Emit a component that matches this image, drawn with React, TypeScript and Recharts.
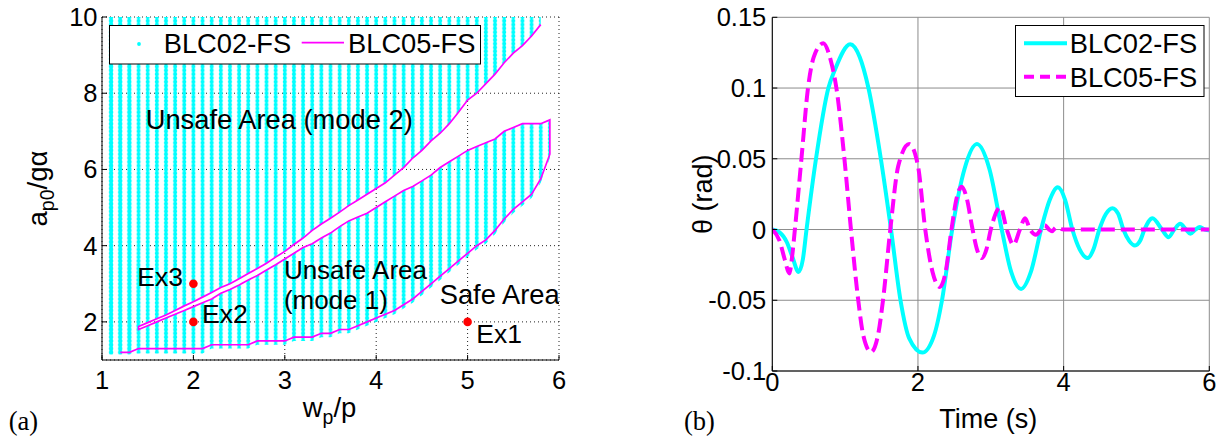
import React from 'react';
import { ComposedChart, Area, Line, Scatter, XAxis, YAxis, CartesianGrid } from 'recharts';

const SANS = '"Liberation Sans", Arial, Helvetica, sans-serif';
const SERIF = '"Liberation Serif", "Times New Roman", serif';
const CYAN = '#00ffff';
const MAGENTA = '#ff00ff';

const seriesNames = ['BLC02-FS', 'BLC05-FS'];

// ---------------- Panel (a): stability map ----------------
const regionX = [1.05, 1.1, 1.2, 1.3, 1.4, 1.5, 1.6, 1.7, 1.8, 1.9, 2.0, 2.1, 2.2, 2.3, 2.4, 2.5, 2.6, 2.7, 2.8, 2.9, 3.0, 3.1, 3.2, 3.3, 3.4, 3.5, 3.6, 3.7, 3.8, 3.9, 4.0, 4.1, 4.2, 4.3, 4.4, 4.5, 4.6, 4.7, 4.8, 4.9, 5.0, 5.1, 5.2, 5.3, 5.4, 5.5, 5.6, 5.7, 5.8, 5.9];
// lower boundary of the unsafe region (safe area below it)
const bottomEdge = [1.2, 1.2, 1.2, 1.2, 1.3, 1.3, 1.3, 1.3, 1.3, 1.3, 1.3, 1.3, 1.4, 1.4, 1.4, 1.4, 1.4, 1.5, 1.5, 1.5, 1.5, 1.6, 1.6, 1.6, 1.7, 1.7, 1.8, 1.8, 1.9, 2.0, 2.1, 2.2, 2.3, 2.45, 2.6, 2.8, 3.0, 3.2, 3.4, 3.6, 3.8, 4.0, 4.15, 4.4, 4.7, 4.95, 5.15, 5.35, 5.75, 6.4];
// lowest sampled unsafe points (dots reach a little below the contour line)
const dotFloor = [1.15, 1.15, 1.15, 1.15, 1.17, 1.17, 1.17, 1.17, 1.17, 1.17, 1.17, 1.17, 1.3, 1.3, 1.3, 1.3, 1.3, 1.4, 1.4, 1.4, 1.4, 1.5, 1.5, 1.5, 1.6, 1.6, 1.7, 1.7, 1.8, 1.9, 2.0, 2.1, 2.2, 2.35, 2.5, 2.7, 2.9, 3.1, 3.3, 3.5, 3.7, 3.9, 4.05, 4.3, 4.6, 4.85, 5.05, 5.25, 5.65, 6.3];
// upper edge of the mode-1 unsafe region, x = 1.4 .. 5.9
const mode1Upper = [1.8, 1.9, 2.0, 2.1, 2.2, 2.3, 2.4, 2.5, 2.6, 2.75, 2.85, 2.97, 3.1, 3.22, 3.36, 3.5, 3.65, 3.8, 3.95, 4.05, 4.2, 4.33, 4.5, 4.65, 4.75, 4.85, 5.0, 5.15, 5.3, 5.45, 5.55, 5.7, 5.85, 6.05, 6.2, 6.35, 6.5, 6.6, 6.7, 6.8, 7.0, 7.1, 7.2, 7.2, 7.2, 7.3];
// lower edge of the mode-2 unsafe region, x = 1.4 .. 5.8
const mode2Lower = [1.88, 1.98, 2.08, 2.18, 2.3, 2.42, 2.53, 2.65, 2.77, 2.9, 3.0, 3.13, 3.27, 3.4, 3.54, 3.7, 3.85, 4.03, 4.2, 4.4, 4.57, 4.72, 4.88, 5.05, 5.2, 5.35, 5.5, 5.65, 5.85, 6.05, 6.3, 6.5, 6.75, 6.95, 7.2, 7.5, 7.82, 8.0, 8.25, 8.5, 8.8, 9.05, 9.25, 9.5, 9.8];
const exampleX = [5, 2, 2];
const exampleY = [2, 2, 3];
const exampleNames = ['Ex1', 'Ex2', 'Ex3'];
const noteX = [1.478, 2.99, 4.695];
const noteY = [7.053, 3.12, 2.47];
const noteLines = [['Unsafe Area (mode 2)'], ['Unsafe Area', '(mode 1)'], ['Safe Area']];
const ticksA_X = [1, 2, 3, 4, 5, 6];
const ticksA_Y = [2, 4, 6, 8, 10];
const Y_TOP = 10;

const M0 = regionX.indexOf(1.4);
const regionRows = regionX.map((x, i) => {
  const k = i - M0;
  const up1 = k >= 0 ? mode1Upper[k] : Y_TOP;
  const low2 = k >= 0 ? mode2Lower[k] : dotFloor[i];
  return {
    x,
    mode2Band: k < mode2Lower.length ? [low2, Y_TOP] : null,
    mode1Band: [dotFloor[i], up1],
  };
});
const boundaryLoop = [
  ...mode2Lower.map((y, k) => ({ x: regionX[M0 + k], y })).reverse(),
  ...mode1Upper.map((y, k) => ({ x: regionX[M0 + k], y })),
  ...bottomEdge.map((y, i) => ({ x: regionX[i], y })).slice(2).reverse(),
];
const examplePoints = exampleX.map((x, i) => ({ x, y: exampleY[i], name: exampleNames[i] }));
const notePoints = noteX.map((x, i) => ({ x, y: noteY[i], lines: noteLines[i] }));

// ---------------- Panel (b): time histories ----------------
const blc02Time = [0, 0.1, 0.2, 0.28, 0.36, 0.42, 0.47, 0.6, 0.77, 0.86, 1.07, 1.2, 1.32, 1.49, 1.63, 1.76, 1.88, 2.06, 2.22, 2.33, 2.47, 2.64, 2.81, 2.98, 3.15, 3.28, 3.415, 3.55, 3.69, 3.81, 3.92, 4.02, 4.12, 4.22, 4.33, 4.41, 4.49, 4.58, 4.67, 4.75, 4.82, 4.9, 4.98, 5.05, 5.11, 5.22, 5.35, 5.44, 5.52, 5.6, 5.68, 5.74, 5.81, 5.87, 5.94, 6.0];
const blc02Theta = [0, -0.002, -0.009, -0.02, -0.03, -0.021, 0, 0.05, 0.1, 0.113, 0.131, 0.122, 0.1, 0.05, 0, -0.05, -0.077, -0.087, -0.075, -0.05, 0, 0.043, 0.0604, 0.043, 0, -0.03, -0.042, -0.03, 0, 0.021, 0.0298, 0.021, 0, -0.014, -0.0202, -0.014, 0, 0.011, 0.0151, 0.011, 0, -0.008, -0.0113, -0.008, 0, 0.008, 0, -0.0054, 0, 0.004, 0, -0.003, 0, 0.0017, 0, -0.0005];
const blc05Time = [0, 0.1, 0.17, 0.234, 0.27, 0.31, 0.4, 0.49, 0.57, 0.7, 0.8, 0.88, 0.99, 1.08, 1.18, 1.25, 1.355, 1.45, 1.52, 1.62, 1.73, 1.88, 2.0, 2.1, 2.2, 2.3, 2.38, 2.46, 2.53, 2.6, 2.67, 2.75, 2.81, 2.875, 2.94, 3.0, 3.13, 3.22, 3.31, 3.4, 3.47, 3.54, 3.62, 3.69, 3.74, 3.8, 3.84, 3.9, 4.0, 6.0];
const blc05Theta = [0, -0.008, -0.021, -0.031, -0.02, 0, 0.05, 0.1, 0.122, 0.1317, 0.12, 0.1, 0.05, 0, -0.05, -0.075, -0.0866, -0.075, -0.05, 0, 0.045, 0.0604, 0.045, 0, -0.03, -0.0406, -0.03, 0, 0.022, 0.0303, 0.022, 0, -0.014, -0.0202, -0.014, 0, 0.0158, 0, -0.0108, 0, 0.008, 0, -0.0037, 0, 0.003, 0, -0.0012, 0.0015, 0, 0];
const ticksB_X = [0, 2, 4, 6];
const ticksB_Y = [-0.1, -0.05, 0, 0.05, 0.1, 0.15];

const blc02Points = blc02Time.map((t, i) => ({ t, v: blc02Theta[i] }));
const blc05Points = blc05Time.map((t, i) => ({ t, v: blc05Theta[i] }));

// ---------------- layout / style constants ----------------
const A_LEFT = 102;
const A_TOP = 17;
const A_PLOT_W = 457;
const A_PLOT_H = 343;
const DOT_DX = (A_PLOT_W / 5) * 0.1;
const DOT_DY = (A_PLOT_H / 9) * 0.1;
const DOT_X0 = A_LEFT + DOT_DX - DOT_DX / 2;
const DOT_Y0 = A_TOP - DOT_DY / 2;
const NOTE_FONT = 27.3;
const NOTE_FONT_SMALL = 26;
const NOTE_LINE_GAP = 29.3;

const tickStyleA = { fontFamily: SANS, fontSize: 25.5, fill: '#000' };
const tickStyleB = { fontFamily: SANS, fontSize: 25.5, fill: '#000' };
const exLabelStyle: Record<string, { dx: number; dy: number; anchor: 'start' | 'end' }> = {
  Ex1: { dx: 8.7, dy: 21, anchor: 'start' },
  Ex2: { dx: 8.6, dy: 1, anchor: 'start' },
  Ex3: { dx: -10.5, dy: 2.3, anchor: 'end' },
};

const XTitleA = (props: any) => {
  const vb = props.viewBox || { x: 0, y: 0, width: 0, height: 0 };
  return (
    <text x={vb.x + vb.width / 2 - 1} y={vb.y + 56.7} textAnchor="middle" fontFamily={SANS} fontSize={27.5} fill="#000">
      w<tspan dy={7} fontSize={19.5}>p</tspan>
      <tspan dy={-7}>/p</tspan>
    </text>
  );
};

const YTitleA = (props: any) => {
  const vb = props.viewBox || { x: 0, y: 0, width: 0, height: 0 };
  const x = vb.x + 47;
  const y = vb.y + vb.height / 2;
  return (
    <text x={x} y={y} transform={`rotate(-90 ${x} ${y})`} textAnchor="middle" fontFamily={SANS} fontSize={27.5} fill="#000">
      a<tspan dy={7} fontSize={19.5}>p0</tspan>
      <tspan dy={-7}>/gα</tspan>
    </text>
  );
};

const XTitleB = (props: any) => {
  const vb = props.viewBox || { x: 0, y: 0, width: 0, height: 0 };
  return (
    <text x={vb.x + vb.width / 2 - 2.5} y={vb.y + 57.3} textAnchor="middle" fontFamily={SANS} fontSize={27} fill="#000">
      Time (s)
    </text>
  );
};

const YTitleB = (props: any) => {
  const vb = props.viewBox || { x: 0, y: 0, width: 0, height: 0 };
  const x = vb.x + 92;
  const y = vb.y + vb.height / 2;
  return (
    <text x={x} y={y} transform={`rotate(-90 ${x} ${y})`} textAnchor="middle" fontFamily={SANS} fontSize={27} fill="#000">
      θ (rad)
    </text>
  );
};

const ExampleMarker = (p: any) => {
  const s = exLabelStyle[p.payload.name];
  return (
    <g>
      <circle cx={p.cx} cy={p.cy} r={4.3} fill="#ff0000" />
      <text x={p.cx + s.dx} y={p.cy + s.dy} textAnchor={s.anchor} fontFamily={SANS} fontSize={26.5} fill="#000">
        {p.payload.name}
      </text>
    </g>
  );
};

const NoteText = (p: any) => {
  const multi = p.payload.lines.length > 1;
  return (
    <text x={p.cx} y={p.cy} fontFamily={SANS} fontSize={multi ? NOTE_FONT_SMALL : NOTE_FONT} fill="#000">
      {p.payload.lines.map((line: string, i: number) => (
        <tspan key={i} x={p.cx} dy={i === 0 ? 0 : NOTE_LINE_GAP}>
          {line}
        </tspan>
      ))}
    </text>
  );
};

function PanelA() {
  return (
    <ComposedChart width={600} height={445} data={regionRows} margin={{ top: A_TOP, right: 600 - A_LEFT - A_PLOT_W, bottom: 0, left: 0 }}>
      <defs>
        <pattern id="cyanDots" patternUnits="userSpaceOnUse" x={DOT_X0} y={DOT_Y0} width={DOT_DX} height={DOT_DY}>
          <circle cx={DOT_DX / 2} cy={DOT_DY / 2} r={2.05} fill={CYAN} />
        </pattern>
      </defs>
      <CartesianGrid stroke="#222" strokeDasharray="1 3" strokeWidth={1} />
      <Area dataKey="mode2Band" type="linear" stroke="none" fill="url(#cyanDots)" fillOpacity={1} dot={false} activeDot={false} isAnimationActive={false} />
      <Area dataKey="mode1Band" type="linear" stroke="none" fill="url(#cyanDots)" fillOpacity={1} dot={false} activeDot={false} isAnimationActive={false} />
      <XAxis dataKey="x" type="number" domain={[1, 6]} ticks={ticksA_X} allowDataOverflow height={445 - A_TOP - A_PLOT_H}
        tickSize={-5} tickMargin={15.5} axisLine={{ stroke: '#000' }} tickLine={{ stroke: '#000' }} tick={tickStyleA} label={<XTitleA />} />
      <YAxis type="number" domain={[1, 10]} ticks={ticksA_Y} allowDataOverflow width={A_LEFT}
        tickSize={-5} tickMargin={9.5} axisLine={{ stroke: '#000' }} tickLine={{ stroke: '#000' }} tick={tickStyleA} label={<YTitleA />} />
      <XAxis xAxisId="top" orientation="top" type="number" domain={[1, 6]} ticks={ticksA_X} allowDataOverflow height={0}
        tickSize={-5} tick={false} axisLine={{ stroke: '#000' }} tickLine={{ stroke: '#000' }} />
      <YAxis yAxisId="right" orientation="right" type="number" domain={[1, 10]} ticks={ticksA_Y} allowDataOverflow width={0}
        tickSize={-5} tick={false} axisLine={{ stroke: '#000' }} tickLine={{ stroke: '#000' }} />
      <Line data={boundaryLoop} dataKey="y" type="linear" stroke={MAGENTA} strokeWidth={1.7} dot={false} activeDot={false} isAnimationActive={false} />
      <Scatter data={examplePoints} dataKey="y" shape={ExampleMarker} isAnimationActive={false} />
      <Scatter data={notePoints} dataKey="y" shape={NoteText} isAnimationActive={false} />
    </ComposedChart>
  );
}

function PanelB() {
  return (
    <ComposedChart width={607} height={445} margin={{ top: 17.3, right: 17.7, bottom: 0, left: 0 }}>
      <CartesianGrid stroke="#8c8c8c" strokeWidth={1} />
      <XAxis dataKey="t" type="number" domain={[0, 6]} ticks={ticksB_X} allowDataOverflow height={74}
        tickSize={-5} tickMargin={7.3} axisLine={{ stroke: '#000' }} tickLine={{ stroke: '#000' }} tick={tickStyleB} label={<XTitleB />} />
      <YAxis type="number" domain={[-0.1, 0.15]} ticks={ticksB_Y} allowDataOverflow width={152.3}
        tickSize={-5} tickMargin={11} axisLine={{ stroke: '#000' }} tickLine={{ stroke: '#000' }} tick={tickStyleB}
        tickFormatter={(v: number) => String(v)} label={<YTitleB />} />
      <XAxis xAxisId="top" orientation="top" type="number" domain={[0, 6]} ticks={ticksB_X} allowDataOverflow height={0}
        tickSize={-5} tick={false} axisLine={{ stroke: '#000' }} tickLine={{ stroke: '#000' }} />
      <YAxis yAxisId="right" orientation="right" type="number" domain={[-0.1, 0.15]} ticks={ticksB_Y} allowDataOverflow width={0}
        tickSize={-5} tick={false} axisLine={{ stroke: '#000' }} tickLine={{ stroke: '#000' }} />
      <Line data={blc02Points} dataKey="v" name={seriesNames[0]} type="monotone" stroke={CYAN} strokeWidth={4} dot={false} activeDot={false} isAnimationActive={false} />
      <Line data={blc05Points} dataKey="v" name={seriesNames[1]} type="monotone" stroke={MAGENTA} strokeWidth={4} strokeDasharray="14 6" dot={false} activeDot={false} isAnimationActive={false} />
    </ComposedChart>
  );
}

function Overlay() {
  return (
    <svg width={1227} height={445} style={{ position: 'absolute', left: 0, top: 0, pointerEvents: 'none' }}>
      {/* legend (a) */}
      <rect x={109.5} y={25.5} width={371} height={38.5} fill="#fff" stroke="#000" strokeWidth={1} />
      <circle cx={139} cy={44} r={1.9} fill={CYAN} />
      <text x={163.7} y={53.3} fontFamily={SANS} fontSize={27.3} fill="#000">{seriesNames[0]}</text>
      <line x1={301.7} x2={344} y1={42.7} y2={42.7} stroke={MAGENTA} strokeWidth={1.7} />
      <text x={348} y={53.3} fontFamily={SANS} fontSize={27.3} fill="#000">{seriesNames[1]}</text>
      {/* legend (b) */}
      <rect x={1015.5} y={25.5} width={188.5} height={71} fill="#fff" stroke="#000" strokeWidth={1} />
      <line x1={1024} x2={1067} y1={43.3} y2={43.3} stroke={CYAN} strokeWidth={4} />
      <text x={1069.7} y={53.3} fontFamily={SANS} fontSize={27.3} fill="#000">{seriesNames[0]}</text>
      <line x1={1024} x2={1067} y1={76.7} y2={76.7} stroke={MAGENTA} strokeWidth={4} strokeDasharray="10 6" />
      <text x={1069.7} y={87.3} fontFamily={SANS} fontSize={27.3} fill="#000">{seriesNames[1]}</text>
      {/* panel captions */}
      <text x={8.7} y={430} fontFamily={SERIF} fontSize={26.5} fill="#000">(a)</text>
      <text x={684} y={430} fontFamily={SERIF} fontSize={26.5} fill="#000">(b)</text>
    </svg>
  );
}

export default function App() {
  return (
    <div style={{ position: 'absolute', left: 0, top: 0, width: 1227, height: 445, background: '#fff', overflow: 'hidden' }}>
      <div style={{ position: 'absolute', left: 0, top: 0 }}>
        <PanelA />
      </div>
      <div style={{ position: 'absolute', left: 620, top: 0 }}>
        <PanelB />
      </div>
      <Overlay />
    </div>
  );
}
